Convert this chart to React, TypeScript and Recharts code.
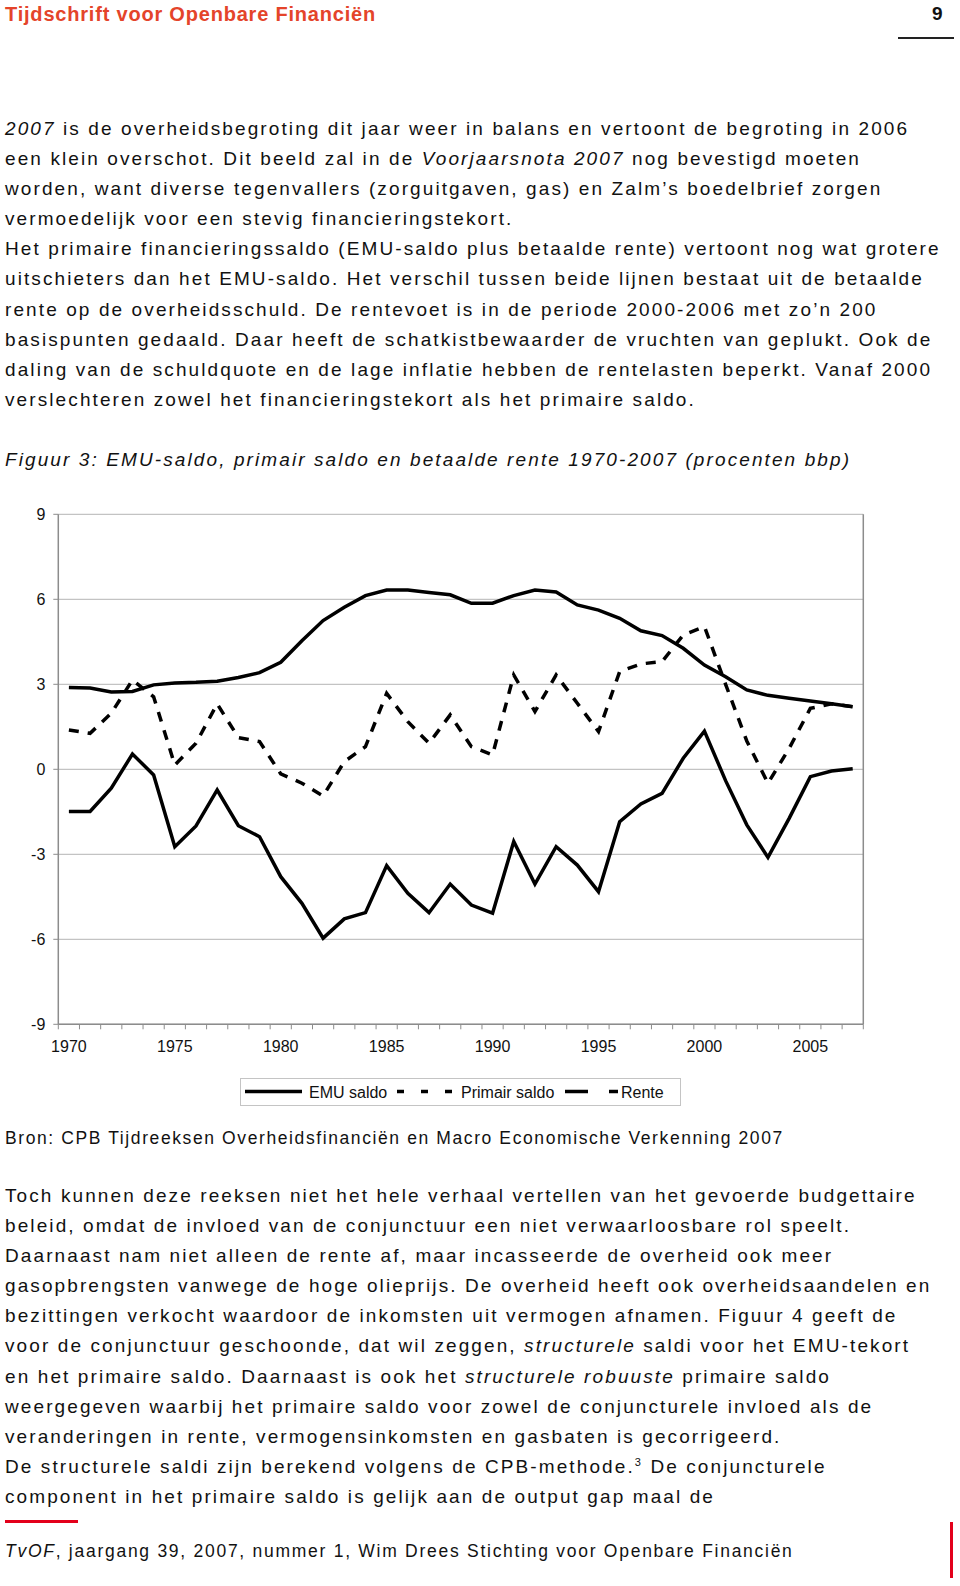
import React from "react";
import { LineChart, Line, XAxis, YAxis, CartesianGrid, ReferenceLine } from "recharts";

// Figuur 3: EMU-saldo, primair saldo en betaalde rente 1970-2007 (procenten bbp)
const years = [
  1970, 1971, 1972, 1973, 1974, 1975, 1976, 1977, 1978, 1979,
  1980, 1981, 1982, 1983, 1984, 1985, 1986, 1987, 1988, 1989,
  1990, 1991, 1992, 1993, 1994, 1995, 1996, 1997, 1998, 1999,
  2000, 2001, 2002, 2003, 2004, 2005, 2006, 2007,
];
const emuSaldo = [
  -1.49, -1.49, -0.67, 0.54, -0.2, -2.73, -2.0, -0.73, -1.99, -2.38,
  -3.79, -4.73, -5.96, -5.28, -5.06, -3.4, -4.38, -5.06, -4.05, -4.79,
  -5.08, -2.55, -4.05, -2.73, -3.38, -4.32, -1.85, -1.22, -0.85, 0.39,
  1.35, -0.4, -1.96, -3.11, -1.73, -0.26, -0.06, 0.02,
];
const primairSaldo = [
  1.39, 1.27, 1.98, 3.15, 2.56, 0.15, 0.92, 2.31, 1.12, 0.98,
  -0.16, -0.49, -0.94, 0.27, 0.8, 2.68, 1.68, 0.92, 1.92, 0.8,
  0.51, 3.33, 2.04, 3.33, 2.33, 1.33, 3.45, 3.72, 3.8, 4.74,
  5.04, 3.0, 1.0, -0.49, 0.74, 2.15, 2.31, 2.21,
];
const rente = [
  2.89, 2.87, 2.73, 2.75, 2.98, 3.05, 3.07, 3.11, 3.24, 3.41,
  3.78, 4.54, 5.25, 5.72, 6.13, 6.33, 6.33, 6.24, 6.16, 5.86,
  5.86, 6.13, 6.33, 6.26, 5.8, 5.62, 5.33, 4.89, 4.72, 4.27,
  3.68, 3.27, 2.8, 2.61, 2.51, 2.41, 2.31, 2.21,
];
const yTicks = [-9, -6, -3, 0, 3, 6, 9];
const labelYears = [1970, 1975, 1980, 1985, 1990, 1995, 2000, 2005];
const seriesNames = ["EMU saldo", "Primair saldo", "Rente"];

const data = years.map((year, i) => ({
  year,
  emu: emuSaldo[i],
  primair: primairSaldo[i],
  rente: rente[i],
}));

const CHART_W = 880;
const CHART_H = 580;
const MARGIN = { top: 24.3, right: 16.7, bottom: 5.7, left: 8.3 };
const Y_W = 50;
const X_H = 40;
const PLOT_W = CHART_W - MARGIN.left - MARGIN.right - Y_W;
const HALF = PLOT_W / years.length / 2;

const GRID = "#b4b4b4";
const AXIS = "#8c8c8c";
const INK = "#111";
const RED = "#e3001b";
const FONT = "'Liberation Sans', Arial, sans-serif";

const body: React.CSSProperties = {
  position: "absolute",
  left: 5,
  fontFamily: FONT,
  fontSize: 19,
  letterSpacing: 2.1,
  lineHeight: "30.1px",
  color: INK,
  whiteSpace: "pre",
};

const small: React.CSSProperties = { ...body, fontSize: 17.5 };

const para1 = [
  <><i>2007</i> is de overheidsbegroting dit jaar weer in balans en vertoont de begroting in 2006</>,
  <>een klein overschot. Dit beeld zal in de <i>Voorjaarsnota 2007</i> nog bevestigd moeten</>,
  <>worden, want diverse tegenvallers (zorguitgaven, gas) en Zalm’s boedelbrief zorgen</>,
  <>vermoedelijk voor een stevig financieringstekort.</>,
  <>Het primaire financieringssaldo (EMU-saldo plus betaalde rente) vertoont nog wat grotere</>,
  <>uitschieters dan het EMU-saldo. Het verschil tussen beide lijnen bestaat uit de betaalde</>,
  <>rente op de overheidsschuld. De rentevoet is in de periode 2000-2006 met zo’n 200</>,
  <>basispunten gedaald. Daar heeft de schatkistbewaarder de vruchten van geplukt. Ook de</>,
  <>daling van de schuldquote en de lage inflatie hebben de rentelasten beperkt. Vanaf 2000</>,
  <>verslechteren zowel het financieringstekort als het primaire saldo.</>,
];

const para2 = [
  <>Toch kunnen deze reeksen niet het hele verhaal vertellen van het gevoerde budgettaire</>,
  <>beleid, omdat de invloed van de conjunctuur een niet verwaarloosbare rol speelt.</>,
  <>Daarnaast nam niet alleen de rente af, maar incasseerde de overheid ook meer</>,
  <>gasopbrengsten vanwege de hoge olieprijs. De overheid heeft ook overheidsaandelen en</>,
  <>bezittingen verkocht waardoor de inkomsten uit vermogen afnamen. Figuur 4 geeft de</>,
  <>voor de conjunctuur geschoonde, dat wil zeggen, <i>structurele</i> saldi voor het EMU-tekort</>,
  <>en het primaire saldo. Daarnaast is ook het <i>structurele robuuste</i> primaire saldo</>,
  <>weergegeven waarbij het primaire saldo voor zowel de conjuncturele invloed als de</>,
  <>veranderingen in rente, vermogensinkomsten en gasbaten is gecorrigeerd.</>,
  <>De structurele saldi zijn berekend volgens de CPB-methode.<sup style={{ fontSize: 11, lineHeight: 0 }}>3</sup> De conjuncturele</>,
  <>component in het primaire saldo is gelijk aan de output gap maal de</>,
];

function YearTick(props: any) {
  const { x, y, payload } = props;
  const yr = payload.value;
  return (
    <g>
      <line x1={x - HALF} x2={x - HALF} y1={y} y2={y + 5} stroke={AXIS} />
      {yr === years[years.length - 1] && (
        <line x1={x + HALF} x2={x + HALF} y1={y} y2={y + 5} stroke={AXIS} />
      )}
      {labelYears.includes(yr) && (
        <text x={x} y={y + 28} textAnchor="middle" fontFamily={FONT} fontSize={16} fill={INK}>
          {yr}
        </text>
      )}
    </g>
  );
}

function LegendBox() {
  const cy = 13.5;
  return (
    <svg width={441} height={28} style={{ position: "absolute", left: 240, top: 1078 }}>
      <rect x={0.5} y={0.5} width={440} height={27} fill="#fff" stroke="#c4c4c4" />
      <line x1={5} x2={62} y1={cy} y2={cy} stroke="#000" strokeWidth={3.5} />
      <text x={69} y={cy + 6} fontFamily={FONT} fontSize={16} fill={INK}>{seriesNames[0]}</text>
      <line x1={157} x2={212} y1={cy} y2={cy} stroke="#000" strokeWidth={3.5} strokeDasharray="7 17" />
      <text x={221} y={cy + 6} fontFamily={FONT} fontSize={16} fill={INK}>{seriesNames[1]}</text>
      <line x1={325} x2={378} y1={cy} y2={cy} stroke="#000" strokeWidth={3.5} strokeDasharray="23 21" />
      <text x={381} y={cy + 6} fontFamily={FONT} fontSize={16} fill={INK}>{seriesNames[2]}</text>
    </svg>
  );
}

export default function App() {
  return (
    <div style={{ position: "absolute", left: 0, top: 0, width: 960, height: 1586, background: "#fff", overflow: "hidden" }}>
      {/* kop */}
      <div style={{ position: "absolute", left: 5, top: 3, fontFamily: FONT, fontWeight: "bold", fontSize: 20, letterSpacing: 0.8, color: "#e4442a" }}>
        Tijdschrift voor Openbare Financiën
      </div>
      <div style={{ position: "absolute", left: 932, top: 3, fontFamily: FONT, fontWeight: "bold", fontSize: 19, color: INK }}>9</div>
      <div style={{ position: "absolute", left: 898, top: 37, width: 56, height: 2, background: "#222" }} />

      <div style={{ ...body, top: 114 }}>
        {para1.map((l, i) => <div key={i}>{l}</div>)}
      </div>

      <div style={{ ...body, top: 445, fontStyle: "italic" }}>
        Figuur 3: EMU-saldo, primair saldo en betaalde rente 1970-2007 (procenten bbp)
      </div>

      <div style={{ position: "absolute", left: 0, top: 490 }}>
        <LineChart width={CHART_W} height={CHART_H} data={data} margin={MARGIN}>
          <CartesianGrid vertical={false} stroke={GRID} />
          <XAxis
            dataKey="year"
            type="number"
            domain={[1969.5, 2007.5]}
            ticks={years}
            interval={0}
            height={X_H}
            tickSize={0}
            tickMargin={0}
            tick={<YearTick />}
            axisLine={{ stroke: AXIS, strokeWidth: 1.5 }}
          />
          <YAxis
            type="number"
            domain={[-9, 9]}
            ticks={yTicks}
            width={Y_W}
            tickSize={5}
            tickMargin={8}
            tickLine={{ stroke: AXIS }}
            axisLine={{ stroke: AXIS, strokeWidth: 1.5 }}
            tick={{ fill: INK, fontSize: 16, fontFamily: FONT }}
          />
          <ReferenceLine x={2007.5} stroke={AXIS} strokeWidth={1.5} ifOverflow="visible" />
          <Line dataKey="rente" stroke="#000" strokeWidth={3.5} dot={false} type="linear" isAnimationActive={false} />
          <Line dataKey="primair" stroke="#000" strokeWidth={3.5} strokeDasharray="10 9" dot={false} type="linear" isAnimationActive={false} />
          <Line dataKey="emu" stroke="#000" strokeWidth={3.5} dot={false} type="linear" isAnimationActive={false} />
        </LineChart>
      </div>

      <LegendBox />

      <div style={{ ...small, top: 1123, letterSpacing: 1.6 }}>
        Bron: CPB Tijdreeksen Overheidsfinanciën en Macro Economische Verkenning 2007
      </div>

      <div style={{ ...body, top: 1181 }}>
        {para2.map((l, i) => <div key={i}>{l}</div>)}
      </div>

      <div style={{ position: "absolute", left: 5, top: 1520, width: 73, height: 3, background: RED }} />
      <div style={{ position: "absolute", left: 950, top: 1522, width: 3, height: 56, background: RED }} />
      <div style={{ ...small, top: 1536, letterSpacing: 1.73 }}>
        <i>TvOF</i>, jaargang 39, 2007, nummer 1, Wim Drees Stichting voor Openbare Financiën
      </div>
    </div>
  );
}
